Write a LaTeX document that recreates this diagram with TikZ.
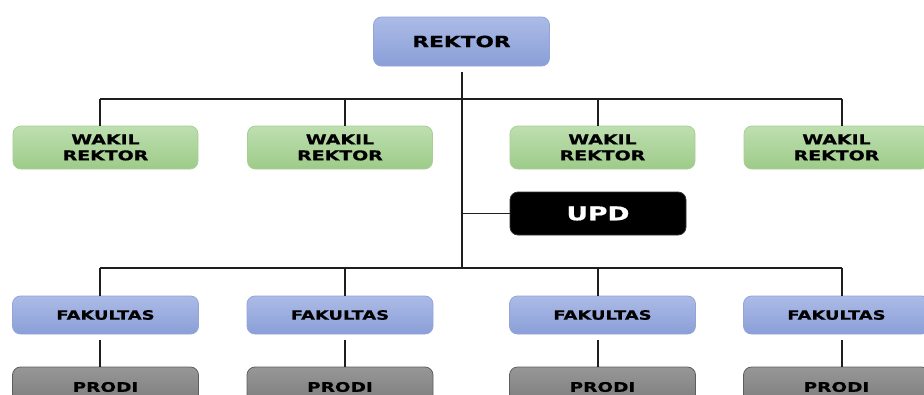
\documentclass[tikz,border=0pt]{standalone}
\usepackage{fontspec}
\newfontfamily\boxfont{DejaVu Sans}[FakeStretch=1.4, FakeBold=0.6]
\definecolor{bluetop}{HTML}{ACBBE6}
\definecolor{bluebot}{HTML}{8A9FD8}
\definecolor{blueline}{HTML}{93A5D8}
\definecolor{greentop}{HTML}{BEDFB0}
\definecolor{greenbot}{HTML}{9DCB89}
\definecolor{greenline}{HTML}{A6D094}
\definecolor{graytop}{HTML}{979797}
\definecolor{graybot}{HTML}{7A7A7A}
\definecolor{grayline}{HTML}{5E5E5E}
\definecolor{linecol}{HTML}{1E1E1E}
\tikzset{
  orgbox/.style={rounded corners=8pt, line width=0.8pt, inner sep=0pt, align=center, text=black},
  bluebox/.style={orgbox, draw=blueline, top color=bluetop, bottom color=bluebot},
  greenbox/.style={orgbox, draw=greenline, top color=greentop, bottom color=greenbot, minimum width=185pt, minimum height=43pt, font=\boxfont\bfseries\fontsize{13.5}{16}\selectfont},
  faculty/.style={bluebox, minimum width=186pt, minimum height=38pt, font=\boxfont\bfseries\fontsize{12.8}{14}\selectfont},
  prodibox/.style={orgbox, draw=grayline, top color=graytop, bottom color=graybot, minimum width=186pt, minimum height=40pt, font=\boxfont\bfseries\fontsize{13.2}{14}\selectfont},
  conn/.style={draw=linecol, line width=1.9pt},
}
\begin{document}
\begin{tikzpicture}[x=1pt, y=-1pt]
\useasboundingbox (0,0) rectangle (924,394);
\clip (0,0) rectangle (924,394);
% top
\node[bluebox, minimum width=176pt, minimum height=49pt, font=\boxfont\bfseries\fontsize{15.5}{16}\selectfont] (rek) at (461.5,41.5) {REKTOR};
% wakil rektor
\node[greenbox] (w1) at (105.5,147.5) {WAKIL\\REKTOR};
\node[greenbox] (w2) at (340,147.5) {WAKIL\\REKTOR};
\node[greenbox] (w3) at (602.5,147.5) {WAKIL\\REKTOR};
\node[greenbox] (w4) at (836.5,147.5) {WAKIL\\REKTOR};
% UPD
\node[orgbox, draw=black!80, fill=black, text=white, minimum width=176pt, minimum height=43pt, font=\boxfont\bfseries\fontsize{19}{20}\selectfont] (upd) at (598,213.5) {UPD};
% fakultas
\node[faculty] (f1) at (105.5,315) {FAKULTAS};
\node[faculty] (f2) at (340,315) {FAKULTAS};
\node[faculty] (f3) at (602.5,315) {FAKULTAS};
\node[faculty] (f4) at (836.5,315) {FAKULTAS};
% prodi
\node[prodibox] (p1) at (105.5,387) {PRODI};
\node[prodibox] (p2) at (340,387) {PRODI};
\node[prodibox] (p3) at (602.5,387) {PRODI};
\node[prodibox] (p4) at (836.5,387) {PRODI};
% junctions
\coordinate (tb) at (462,268);
\coordinate (a1) at (100,99);
\coordinate (a2) at (345,99);
\coordinate (a3) at (598,99);
\coordinate (a4) at (842,99);
\coordinate (c1) at (100,268);
\coordinate (c2) at (345,268);
\coordinate (c3) at (598,268);
\coordinate (c4) at (842,268);
% trunk
\draw[conn, shorten <=6pt] (rek.south -| tb) -- (tb);
% top bus
\draw[conn, line width=1.6pt] (a1) -- (a4);
\foreach \i in {1,2,3,4}{
  \draw[conn] (a\i) -- (a\i |- w\i.north);
}
% UPD branch
\draw[conn, line width=1.6pt] (upd.west -| tb) -- (upd.west);
% bottom bus
\draw[conn, line width=1.6pt] (c1) -- (c4);
\foreach \i in {1,2,3,4}{
  \draw[conn] (c\i) -- (c\i |- f\i.north);
  \draw[conn, shorten <=6pt] (c\i |- f\i.south) -- (c\i |- p\i.north);
}
\end{tikzpicture}
\end{document}
